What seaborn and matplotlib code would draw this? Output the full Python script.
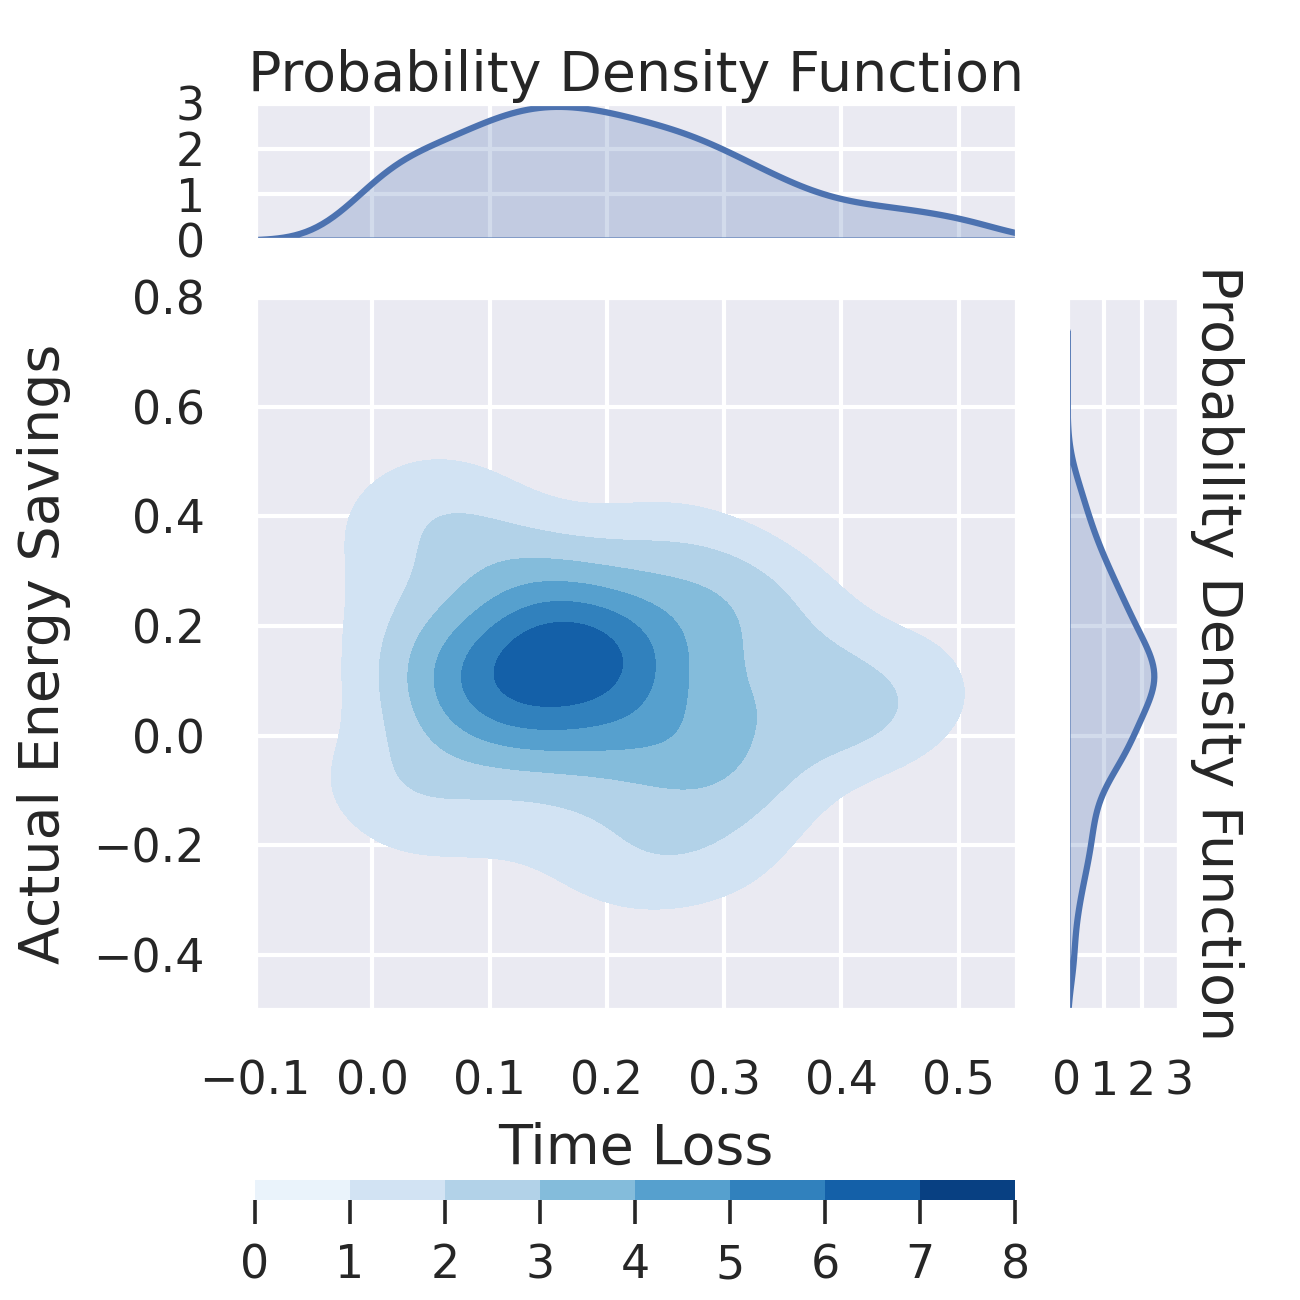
import numpy as np
import pandas as pd
import matplotlib
matplotlib.use("Agg")
import matplotlib.pyplot as plt
from matplotlib.colors import ListedColormap, BoundaryNorm
from matplotlib.cm import ScalarMappable
import seaborn as sns

sns.set_theme(style="darkgrid", context="talk")

# samples
time_loss = [-0.008, 0.005, 0.010, 0.015, 0.025, 0.035, 0.045, 0.054, 0.061, 0.068,
             0.075, 0.082, 0.089, 0.096, 0.103, 0.108, 0.114, 0.119, 0.125, 0.131,
             0.136, 0.142, 0.147, 0.153, 0.158, 0.164, 0.169, 0.175, 0.181, 0.186,
             0.192, 0.197, 0.203, 0.209, 0.216, 0.222, 0.228, 0.234, 0.241, 0.247,
             0.254, 0.261, 0.268, 0.275, 0.282, 0.289, 0.296, 0.305, 0.315, 0.325,
             0.335, 0.345, 0.358, 0.375, 0.392, 0.412, 0.437, 0.455, 0.485, 0.515]
energy_savings = [-0.325, 0.365, -0.113, -0.092, 0.245, 0.060, 0.171, 0.420, -0.038, 0.460,
                  0.108, 0.100, -0.185, 0.342, 0.076, 0.044, 0.146, -0.012, 0.020, 0.281,
                  0.179, 0.188, 0.308, 0.132, 0.118, 0.162, 0.028, 0.225, -0.138, -0.021,
                  0.205, 0.125, -0.275, 0.154, 0.084, 0.325, -0.004, 0.139, -0.212, 0.196,
                  0.052, 0.388, -0.075, -0.029, -0.235, 0.235, 0.256, -0.058, -0.162, 0.294,
                  0.092, -0.046, 0.215, 0.068, 0.111, 0.012, 0.036, -0.410, 0.104, 0.269]

density_levels = [0, 1, 2, 3, 4, 5, 6, 7, 8]
x_ticks = [-0.1, 0.0, 0.1, 0.2, 0.3, 0.4, 0.5]
y_ticks = [-0.4, -0.2, 0.0, 0.2, 0.4, 0.6, 0.8]
pdf_ticks = [0, 1, 2, 3]

df = pd.DataFrame({"Time Loss": time_loss, "Actual Energy Savings": energy_savings})

bw_1d = 0.62
bw_2d = 0.89


def kde_2d(x, y, gx, gy, adjust=1.0):
    # gaussian kde, scott bandwidth
    data = np.vstack([x, y])
    n = data.shape[1]
    cov = np.cov(data) * (adjust * n ** (-1.0 / 6)) ** 2
    inv = np.linalg.inv(cov)
    norm = n * 2 * np.pi * np.sqrt(np.linalg.det(cov))
    X, Y = np.meshgrid(gx, gy)
    pts = np.stack([X.ravel(), Y.ravel()])
    z = np.zeros(pts.shape[1])
    for i in range(n):
        d = pts - data[:, [i]]
        z += np.exp(-0.5 * np.sum(d * (inv @ d), axis=0))
    return X, Y, (z / norm).reshape(X.shape)


label_size = 20
tick_pad = 9

fig = plt.figure(figsize=(6.5, 6.5), dpi=200)
ax = fig.add_axes([0.1962, 0.2231, 0.5862, 0.5485])
ax_top = fig.add_axes([0.1962, 0.8154, 0.5862, 0.1054])
ax_right = fig.add_axes([0.8208, 0.2231, 0.0862, 0.5485])
cax = fig.add_axes([0.1962, 0.0769, 0.5846, 0.0154])

blues = plt.get_cmap("Blues")
cmap8 = ListedColormap(blues((np.arange(8) + 0.5) / 8))
norm8 = BoundaryNorm(density_levels, 8)

gx = np.linspace(-0.2, 0.65, 300)
gy = np.linspace(-0.6, 0.9, 300)
X, Y, Z = kde_2d(df["Time Loss"], df["Actual Energy Savings"], gx, gy, bw_2d)
ax.contourf(X, Y, Z, levels=density_levels[1:], cmap=cmap8, norm=norm8)

ax.set_xlim(-0.1, 0.55)
ax.set_ylim(-0.5, 0.8)
ax.set_xticks(x_ticks)
ax.set_yticks(y_ticks)
ax.tick_params(pad=tick_pad)
ax.set_xlabel("Time Loss", fontsize=label_size, labelpad=6)
ax.set_ylabel("Actual Energy Savings", fontsize=label_size, labelpad=8)

# top marginal
sns.kdeplot(data=df, x="Time Loss", ax=ax_top, fill=True, linewidth=2.25,
            bw_adjust=bw_1d, cut=6)
ax_top.set_xlim(-0.1, 0.55)
ax_top.set_ylim(0, 3)
ax_top.set_xticks(x_ticks)
ax_top.set_yticks(pdf_ticks)
ax_top.tick_params(labelbottom=False, pad=tick_pad)
ax_top.set_xlabel("")
ax_top.set_ylabel("")
ax_top.set_title("Probability Density Function", fontsize=label_size, pad=3)

# right marginal
sns.kdeplot(data=df, y="Actual Energy Savings", ax=ax_right, fill=True, linewidth=2.25,
            bw_adjust=bw_1d, cut=5.5)
ax_right.set_ylim(-0.5, 0.8)
ax_right.set_xlim(0, 3)
ax_right.set_yticks(y_ticks)
ax_right.set_xticks(pdf_ticks)
ax_right.tick_params(labelleft=False, pad=tick_pad)
ax_right.set_xlabel("")
ax_right.yaxis.set_label_position("right")
ax_right.set_ylabel("Probability Density Function", fontsize=label_size,
                    rotation=270, va="bottom", labelpad=4)

# colorbar
sm = ScalarMappable(norm=norm8, cmap=cmap8)
cbar = fig.colorbar(sm, cax=cax, orientation="horizontal", ticks=density_levels)
cbar.outline.set_visible(False)
cax.grid(False)
cax.tick_params(length=8.5, width=1.3, color=".15", pad=7, direction="out")

fig.savefig("out.png", dpi=200)
